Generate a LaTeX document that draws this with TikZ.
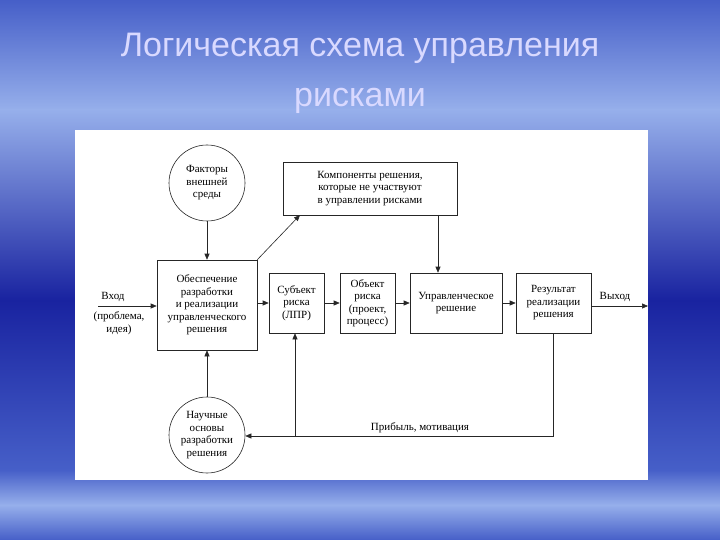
\documentclass[tikz,border=0pt]{standalone}
\usepackage{fontspec}
\setmainfont{Liberation Serif}
\newfontfamily\titlefont{Liberation Sans}
\usetikzlibrary{arrows.meta}
\definecolor{bgtop}{RGB}{70,95,200}
\definecolor{bgmid}{RGB}{25,35,160}
\definecolor{bglight}{RGB}{150,175,235}
\begin{document}
\begin{tikzpicture}[x=1pt,y=-1pt,
  box/.style={draw=black!85,line width=0.6pt,align=center,font=\fontsize{11}{12.5}\selectfont,inner sep=1pt},
  circ/.style={draw=black!85,line width=0.6pt,circle,align=center,font=\fontsize{11}{12.5}\selectfont,minimum size=76pt,inner sep=0pt},
  con/.style={draw=black!85,line width=0.6pt,-{Triangle[length=6pt,width=5pt]}},
  lbl/.style={font=\fontsize{11}{12.5}\selectfont,align=center}]
\useasboundingbox (0,0) rectangle (720,540);
\shade[top color=bgtop, bottom color=bglight] (0,0) rectangle (720,110);
\shade[top color=bglight, bottom color=bgmid] (0,110) rectangle (720,300);
\shade[top color=bgmid, bottom color=bgtop] (0,300) rectangle (720,470);
\shade[top color=bgtop, bottom color=bglight] (0,470) rectangle (720,505);
\shade[top color=bglight, bottom color=bgtop] (0,505) rectangle (720,540);
\node[font=\titlefont\fontsize{34}{50}\selectfont,text=white!85!blue,align=center] (title) at (360,73) {Логическая схема управления\\рисками};
\fill[white] (75,130) rectangle (648,480);
\node[circ] (f) at (207,183) {Факторы\\внешней\\среды};
\node[circ] (n) at (207,435) {Научные\\основы\\разработки\\решения};
\node[box,minimum width=100pt,minimum height=90pt] (o) at (207,305) {Обеспечение\\разработки\\и реализации\\управленческого\\решения};
\node[box,minimum width=174pt,minimum height=53pt] (k) at (370,188.5) {Компоненты решения,\\которые не участвуют\\в управлении рисками};
\node[box,minimum width=55pt,minimum height=60pt] (s) at (296.5,303) {Субъект\\риска\\(ЛПР)};
\node[box,minimum width=55pt,minimum height=60pt] (ob) at (367.5,303) {Объект\\риска\\(проект,\\процесс)};
\node[box,minimum width=92pt,minimum height=60pt] (u) at (456,303) {Управленческое\\решение};
\node[box,minimum width=75pt,minimum height=60pt] (r) at (553.5,303) {Результат\\реализации\\решения};
\coordinate (in) at (98,306);
\coordinate (out) at (648,306);
\coordinate (fb) at (553.5,436);
\coordinate (fs) at (295,436);
\coordinate (kt) at (300,215);
\coordinate (kb) at (438,215);
\node[lbl] (vh) at (113,297) {Вход};
\node[lbl] (pr) at (119,323) {(проблема,\\идея)};
\node[lbl] (vy) at (615,297) {Выход};
\node[lbl] (pm) at (420,428) {Прибыль, мотивация};
\draw[con] (in) -- (o.west |- in);
\draw[con] (f) -- (o);
\draw[con] (n) -- (o);
\draw[con] (o.north east) -- (kt);
\draw[con] (kb) -- (kb |- u.north);
\draw[con] (o.east |- s) -- (s);
\draw[con] (s) -- (ob);
\draw[con] (ob) -- (u);
\draw[con] (u) -- (r);
\draw[con] (r.east |- out) -- (out);
\draw[con] (r.south) -- (fb) -- (n.east |- fb);
\draw[con] (fs) -- (fs |- s.south);
\end{tikzpicture}
\end{document}
